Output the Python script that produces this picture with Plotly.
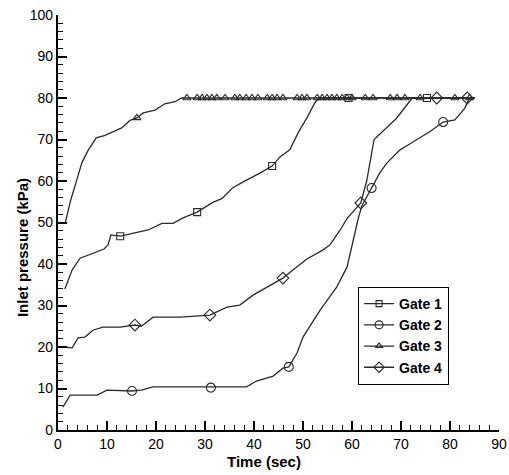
import plotly.graph_objects as go

# ---- data (time in s, inlet pressure in kPa) ----
gate1_t = [1.4, 2.9, 4.5, 7.0, 9.4, 10.2, 10.8, 12.7, 15.7, 18.4, 21.2, 23.5, 25.3, 28.4, 31.5,
           33.5, 35.6, 37.8, 41.2, 43.7, 45.3, 47.3, 49.0, 50.8, 52.4, 53.2, 85.0]
gate1_p = [34.0, 38.6, 41.4, 42.6, 43.6, 44.6, 47.0, 46.7, 47.5, 48.2, 49.8, 49.8, 51.0, 52.5, 54.8,
           55.8, 58.3, 59.8, 61.9, 63.6, 65.8, 67.5, 71.6, 75.2, 78.8, 80.0, 80.0]
gate1_mt = [12.7, 28.4, 43.7, 59.3, 75.3]
gate1_mp = [46.7, 52.5, 63.6, 80.0, 80.0]

gate2_t = [1.0, 2.5, 8.0, 10.0, 15.0, 17.0, 19.4, 31.0, 38.5, 40.5, 43.9, 45.9, 47.1, 48.8, 50.0,
           53.5, 56.9, 59.0, 60.2, 61.2, 62.0, 64.0, 65.7, 67.1, 69.8, 71.2, 76.0, 78.6, 81.0,
           83.0, 84.0, 85.0]
gate2_p = [5.5, 8.4, 8.4, 9.6, 9.4, 9.6, 10.4, 10.4, 10.4, 11.8, 13.0, 14.9, 15.2, 18.6, 22.4,
           28.9, 34.5, 39.3, 45.8, 50.6, 54.0, 58.3, 62.0, 64.3, 67.5, 68.5, 72.0, 74.2, 74.7,
           77.5, 80.0, 80.0]
gate2_mt = [15.1, 31.2, 47.1, 64.0, 78.6]
gate2_mp = [9.4, 10.2, 15.2, 58.3, 74.2]

gate3_t = [1.5, 2.5, 3.9, 4.9, 6.2, 7.8, 9.6, 13.0, 14.7, 16.1, 17.4, 19.8, 21.8, 23.9, 25.2, 85.0]
gate3_p = [50.0, 55.0, 60.5, 64.5, 67.5, 70.4, 71.0, 72.8, 74.6, 75.2, 76.4, 77.1, 78.6, 79.1, 80.0, 80.0]
gate3_mt = [16.1, 26.3, 28.4, 29.4, 30.4, 31.4, 32.4, 34.1, 36.1, 37.1, 38.4, 39.6, 40.8, 42.7,
            43.7, 44.7, 45.9, 48.8, 49.8, 50.8, 52.9, 53.9, 54.9, 55.9, 56.9, 58.0, 59.0, 60.0,
            62.7, 64.3, 67.8, 69.2, 70.8, 73.9, 81.0, 84.0]
gate3_mp = [75.2] + [80.0] * 35

gate4_t = [1.0, 2.9, 4.1, 5.5, 7.2, 9.2, 12.7, 15.7, 17.0, 19.4, 24.9, 31.0, 34.5, 37.1, 39.8,
           42.7, 45.9, 48.0, 50.8, 54.1, 55.5, 57.6, 59.0, 61.8, 63.0, 64.5, 65.7, 69.0, 72.3, 85.0]
gate4_p = [20.0, 19.8, 22.2, 22.4, 24.1, 24.8, 24.8, 25.3, 25.0, 27.2, 27.2, 27.7, 29.6, 30.1, 32.5,
           34.5, 36.6, 38.6, 41.2, 43.4, 44.6, 48.2, 51.0, 54.7, 60.0, 70.0, 71.3, 75.0, 80.0, 80.0]
gate4_mt = [15.7, 31.0, 45.9, 61.8, 77.3, 83.5]
gate4_mp = [25.3, 27.7, 36.6, 54.7, 80.0, 80.0]

names = ["Gate 1", "Gate 2", "Gate 3", "Gate 4"]
symbols = ["square-open", "circle-open", "triangle-up-open", "diamond-open"]
msizes = [7, 9, 7, 9]
series = [(gate1_t, gate1_p, gate1_mt, gate1_mp),
          (gate2_t, gate2_p, gate2_mt, gate2_mp),
          (gate3_t, gate3_p, gate3_mt, gate3_mp),
          (gate4_t, gate4_p, gate4_mt, gate4_mp)]

LC = "#2a2a2a"
fig = go.Figure()
for name, sym, ms, (t, p, mt, mp) in zip(names, symbols, msizes, series):
    fig.add_trace(go.Scatter(x=t, y=p, mode="lines", line=dict(color=LC, width=1.3),
                             showlegend=False, hoverinfo="skip"))
    fig.add_trace(go.Scatter(x=mt, y=mp, mode="markers",
                             marker=dict(symbol=sym, size=ms, color=LC, line=dict(width=1.1, color=LC)),
                             showlegend=False))
for name, sym, ms in zip(names, symbols, msizes):
    fig.add_trace(go.Scatter(x=[None], y=[None], mode="lines+markers", name=name,
                             line=dict(color=LC, width=1.3),
                             marker=dict(symbol=sym, size=ms - 1, color=LC, line=dict(width=1.1, color=LC))))

font = "Liberation Sans, Arial, sans-serif"
fig.update_layout(
    width=509, height=475,
    margin=dict(l=58, r=10, t=15, b=45),
    paper_bgcolor="white", plot_bgcolor="white",
    font=dict(family=font, size=14, color="black"),
    showlegend=True,
    legend=dict(x=0.68, y=0.345, xanchor="left", yanchor="top",
                bordercolor="black", borderwidth=1.2, bgcolor="white",
                font=dict(family=font, size=14, color="black", weight="bold"),
                tracegroupgap=0, entrywidth=100, entrywidthmode="pixels"),
    xaxis=dict(range=[0, 90], dtick=10, showgrid=False, zeroline=False, automargin=False,
               showline=True, linecolor="black", linewidth=2.2,
               ticks="inside", ticklen=9, tickwidth=2, tickcolor="black",
               minor=dict(dtick=2, ticks="inside", ticklen=5, tickwidth=1.2, tickcolor="black"),
               tickfont=dict(size=14)),
    yaxis=dict(range=[0, 100], dtick=10, showgrid=False, zeroline=False, automargin=False,
               showline=True, linecolor="black", linewidth=2.2,
               ticks="inside", ticklen=9, tickwidth=2, tickcolor="black",
               minor=dict(dtick=2, ticks="inside", ticklen=5, tickwidth=1.2, tickcolor="black"),
               tickfont=dict(size=14)),
    annotations=[
        dict(text="<b>Time (sec)</b>", xref="paper", yref="paper", x=0.467, y=-0.077,
             xanchor="center", yanchor="middle", showarrow=False, font=dict(size=15)),
        dict(text="<b>Inlet pressure (kPa)</b>", xref="paper", yref="paper", x=-0.08, y=0.44,
             xanchor="center", yanchor="middle", textangle=-90, showarrow=False, font=dict(size=15)),
    ],
)
fig.write_html("out.html")
